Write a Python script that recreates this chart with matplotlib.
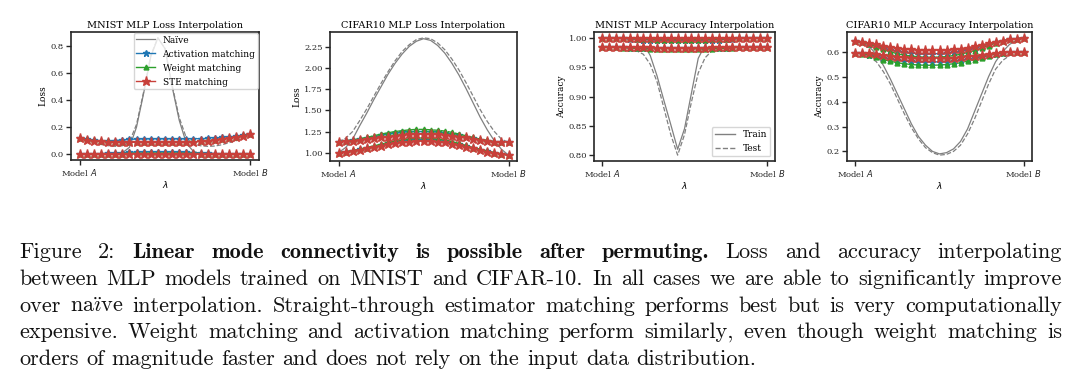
import matplotlib
matplotlib.use("Agg")
import matplotlib.pyplot as plt
from matplotlib.lines import Line2D
import numpy as np

# interpolation coefficients, 25 points from model A to model B
lambdas = np.linspace(0, 1, 25)

# MNIST MLP loss (train, test)
mnist_loss_naive_train = [0.0, 0.0, 0.0, 0.0, 0.001, 0.003, 0.01, 0.05, 0.2, 0.45, 0.72, 0.86, 0.78,
                          0.5, 0.25, 0.08, 0.02, 0.005, 0.001, 0.0, 0.0, 0.0, 0.0, 0.0, 0.0]
mnist_loss_naive_test = [0.12, 0.10, 0.085, 0.072, 0.063, 0.058, 0.062, 0.09, 0.22, 0.46, 0.73, 0.86, 0.78,
                         0.51, 0.27, 0.12, 0.075, 0.062, 0.058, 0.06, 0.07, 0.085, 0.10, 0.125, 0.15]
mnist_loss_act_train = [0.0, 0.001, 0.002, 0.004, 0.006, 0.009, 0.012, 0.014, 0.016, 0.017, 0.018, 0.018, 0.018,
                        0.017, 0.016, 0.014, 0.012, 0.009, 0.007, 0.005, 0.003, 0.002, 0.001, 0.0, 0.0]
mnist_loss_act_test = [0.12, 0.109, 0.102, 0.099, 0.099, 0.101, 0.105, 0.109, 0.112, 0.113, 0.114, 0.114, 0.114,
                       0.114, 0.113, 0.113, 0.114, 0.115, 0.117, 0.12, 0.124, 0.129, 0.135, 0.142, 0.15]
mnist_loss_wm_train = [0.0, 0.0, 0.001, 0.002, 0.003, 0.004, 0.005, 0.006, 0.007, 0.007, 0.008, 0.008, 0.008,
                       0.008, 0.007, 0.007, 0.006, 0.005, 0.004, 0.003, 0.002, 0.001, 0.001, 0.0, 0.0]
mnist_loss_wm_test = [0.12, 0.11, 0.102, 0.097, 0.094, 0.092, 0.091, 0.091, 0.091, 0.091, 0.092, 0.092, 0.092,
                      0.092, 0.092, 0.093, 0.095, 0.098, 0.102, 0.107, 0.113, 0.12, 0.129, 0.139, 0.15]
mnist_loss_ste_train = [0.0, 0.0, 0.0, 0.001, 0.001, 0.002, 0.002, 0.003, 0.003, 0.003, 0.003, 0.003, 0.003,
                        0.003, 0.003, 0.003, 0.002, 0.002, 0.002, 0.001, 0.001, 0.001, 0.0, 0.0, 0.0]
mnist_loss_ste_test = [0.12, 0.108, 0.1, 0.095, 0.092, 0.09, 0.089, 0.088, 0.088, 0.088, 0.088, 0.088, 0.088,
                       0.088, 0.089, 0.09, 0.092, 0.095, 0.099, 0.104, 0.11, 0.118, 0.127, 0.138, 0.15]

# CIFAR10 MLP loss
cifar_loss_naive_train = [1.0, 1.06, 1.16, 1.32, 1.47, 1.63, 1.78, 1.93, 2.06, 2.17, 2.26, 2.32, 2.35,
                          2.33, 2.27, 2.18, 2.06, 1.92, 1.76, 1.59, 1.42, 1.27, 1.14, 1.04, 0.97]
cifar_loss_naive_test = [1.13, 1.17, 1.25, 1.38, 1.52, 1.67, 1.82, 1.96, 2.09, 2.2, 2.28, 2.34, 2.36,
                         2.35, 2.3, 2.22, 2.11, 1.98, 1.83, 1.67, 1.51, 1.37, 1.25, 1.16, 1.12]
cifar_loss_act_train = [1.0, 1.01, 1.022, 1.038, 1.055, 1.072, 1.09, 1.11, 1.125, 1.135, 1.148, 1.152, 1.157,
                        1.152, 1.145, 1.135, 1.115, 1.097, 1.077, 1.055, 1.035, 1.015, 0.998, 0.983, 0.97]
cifar_loss_act_test = [1.13, 1.14, 1.15, 1.16, 1.175, 1.19, 1.205, 1.22, 1.23, 1.24, 1.25, 1.25, 1.25,
                       1.25, 1.245, 1.235, 1.22, 1.205, 1.19, 1.17, 1.155, 1.14, 1.13, 1.125, 1.12]
cifar_loss_wm_train = [1.0, 1.01, 1.025, 1.04, 1.06, 1.08, 1.1, 1.12, 1.14, 1.15, 1.165, 1.17, 1.175,
                       1.17, 1.16, 1.15, 1.13, 1.11, 1.085, 1.06, 1.04, 1.02, 1.0, 0.985, 0.97]
cifar_loss_wm_test = [1.13, 1.14, 1.15, 1.165, 1.18, 1.2, 1.22, 1.235, 1.25, 1.26, 1.27, 1.275, 1.275,
                      1.27, 1.265, 1.255, 1.24, 1.22, 1.2, 1.18, 1.16, 1.145, 1.13, 1.125, 1.12]
cifar_loss_ste_train = [1.0, 1.01, 1.02, 1.035, 1.05, 1.065, 1.08, 1.1, 1.11, 1.12, 1.13, 1.135, 1.14,
                        1.135, 1.13, 1.12, 1.1, 1.085, 1.07, 1.05, 1.03, 1.01, 0.995, 0.98, 0.97]
cifar_loss_ste_test = [1.13, 1.135, 1.14, 1.15, 1.16, 1.17, 1.18, 1.19, 1.2, 1.21, 1.215, 1.22, 1.22,
                       1.22, 1.215, 1.21, 1.2, 1.19, 1.18, 1.165, 1.15, 1.14, 1.13, 1.125, 1.12]

# MNIST MLP accuracy
mnist_acc_naive_train = [1.0, 1.0, 1.0, 1.0, 1.0, 0.999, 0.99, 0.97, 0.935, 0.893, 0.852, 0.81, 0.845,
                         0.905, 0.965, 0.988, 0.997, 1.0, 1.0, 1.0, 1.0, 1.0, 1.0, 1.0, 1.0]
mnist_acc_naive_test = [0.985, 0.985, 0.985, 0.984, 0.982, 0.978, 0.972, 0.955, 0.925, 0.88, 0.835, 0.80, 0.835,
                        0.89, 0.94, 0.966, 0.978, 0.983, 0.985, 0.985, 0.985, 0.985, 0.985, 0.985, 0.985]
mnist_acc_act_train = [1.0, 1.0, 0.999, 0.999, 0.998, 0.998, 0.997, 0.997, 0.996, 0.996, 0.996, 0.996, 0.996,
                       0.996, 0.996, 0.996, 0.997, 0.997, 0.998, 0.998, 0.999, 0.999, 1.0, 1.0, 1.0]
mnist_acc_act_test = [0.985, 0.985, 0.984, 0.984, 0.983, 0.983, 0.982, 0.982, 0.982, 0.982, 0.982, 0.982, 0.982,
                      0.982, 0.982, 0.982, 0.982, 0.983, 0.983, 0.984, 0.984, 0.985, 0.985, 0.985, 0.985]
mnist_acc_wm_train = [1.0, 1.0, 1.0, 0.999, 0.999, 0.998, 0.998, 0.998, 0.997, 0.997, 0.997, 0.997, 0.997,
                      0.997, 0.997, 0.997, 0.998, 0.998, 0.998, 0.999, 0.999, 1.0, 1.0, 1.0, 1.0]
mnist_acc_wm_test = [0.985, 0.985, 0.984, 0.983, 0.983, 0.982, 0.982, 0.981, 0.981, 0.981, 0.981, 0.981, 0.981,
                     0.981, 0.981, 0.981, 0.981, 0.982, 0.982, 0.983, 0.984, 0.984, 0.985, 0.985, 0.985]
mnist_acc_ste_train = [1.0, 1.0, 1.0, 1.0, 1.0, 1.0, 1.0, 0.999, 0.999, 0.999, 0.999, 0.999, 0.999,
                       0.999, 0.999, 0.999, 0.999, 1.0, 1.0, 1.0, 1.0, 1.0, 1.0, 1.0, 1.0]
mnist_acc_ste_test = [0.985, 0.985, 0.985, 0.985, 0.984, 0.984, 0.984, 0.984, 0.983, 0.983, 0.983, 0.983, 0.983,
                      0.983, 0.983, 0.983, 0.984, 0.984, 0.984, 0.984, 0.985, 0.985, 0.985, 0.985, 0.985]

# CIFAR10 MLP accuracy
cifar_acc_naive_train = [0.64, 0.635, 0.62, 0.59, 0.545, 0.49, 0.43, 0.37, 0.31, 0.26, 0.225, 0.2, 0.19,
                         0.195, 0.21, 0.24, 0.29, 0.36, 0.43, 0.5, 0.56, 0.6, 0.63, 0.645, 0.655]
cifar_acc_naive_test = [0.595, 0.59, 0.58, 0.56, 0.52, 0.47, 0.41, 0.35, 0.295, 0.25, 0.215, 0.195, 0.185,
                        0.188, 0.2, 0.225, 0.27, 0.33, 0.4, 0.47, 0.53, 0.565, 0.585, 0.595, 0.6]
cifar_acc_act_train = [0.643, 0.639, 0.632, 0.624, 0.616, 0.608, 0.602, 0.598, 0.595, 0.593, 0.592, 0.592, 0.593,
                       0.595, 0.598, 0.602, 0.608, 0.615, 0.622, 0.63, 0.638, 0.645, 0.65, 0.653, 0.656]
cifar_acc_act_test = [0.597, 0.594, 0.589, 0.583, 0.577, 0.572, 0.567, 0.564, 0.562, 0.56, 0.559, 0.559, 0.56,
                      0.561, 0.563, 0.566, 0.57, 0.575, 0.58, 0.586, 0.591, 0.596, 0.599, 0.6, 0.601]
cifar_acc_wm_train = [0.643, 0.638, 0.63, 0.62, 0.61, 0.6, 0.592, 0.587, 0.583, 0.58, 0.578, 0.578, 0.579,
                      0.581, 0.585, 0.59, 0.597, 0.605, 0.615, 0.625, 0.635, 0.643, 0.65, 0.653, 0.656]
cifar_acc_wm_test = [0.597, 0.593, 0.586, 0.578, 0.569, 0.562, 0.556, 0.552, 0.549, 0.547, 0.546, 0.546, 0.547,
                     0.549, 0.552, 0.556, 0.562, 0.569, 0.577, 0.585, 0.591, 0.596, 0.599, 0.6, 0.601]
cifar_acc_ste_train = [0.643, 0.64, 0.635, 0.63, 0.625, 0.62, 0.615, 0.612, 0.61, 0.608, 0.607, 0.607, 0.607,
                       0.608, 0.61, 0.613, 0.617, 0.622, 0.628, 0.634, 0.64, 0.645, 0.65, 0.653, 0.656]
cifar_acc_ste_test = [0.597, 0.596, 0.594, 0.59, 0.587, 0.584, 0.581, 0.579, 0.577, 0.576, 0.575, 0.575, 0.575,
                      0.576, 0.577, 0.579, 0.582, 0.585, 0.589, 0.592, 0.595, 0.598, 0.6, 0.6, 0.601]

titles = ["MNIST MLP Loss Interpolation", "CIFAR10 MLP Loss Interpolation",
          "MNIST MLP Accuracy Interpolation", "CIFAR10 MLP Accuracy Interpolation"]
ylabels = ["Loss", "Loss", "Accuracy", "Accuracy"]
method_labels = ["Naïve", "Activation matching", "Weight matching", "STE matching"]

caption_lines = [
    "Figure 2: Linear mode connectivity is possible after permuting. Loss and accuracy interpolating",
    "between MLP models trained on MNIST and CIFAR-10. In all cases we are able to significantly improve",
    "over naïve interpolation. Straight-through estimator matching performs best but is very computationally",
    "expensive. Weight matching and activation matching perform similarly, even though weight matching is",
    "orders of magnitude faster and does not rely on the input data distribution.",
]
bold_words = (2, 9)  # word index range on the first line that is bold

plt.rcParams["font.family"] = "DejaVu Serif"
plt.rcParams["axes.edgecolor"] = "#262626"
plt.rcParams["axes.linewidth"] = 1.2
plt.rcParams["xtick.color"] = "#262626"
plt.rcParams["ytick.color"] = "#262626"

W, H = 1080, 384
fig = plt.figure(figsize=(W / 100, H / 100), dpi=100)

# axes boxes in pixels: left, right, top, bottom
boxes = [(71, 259, 32, 160), (330, 517, 32, 161), (594, 775, 32, 161), (847, 1032, 32, 161)]
axes = [fig.add_axes([l / W, 1 - b / H, (r - l) / W, (b - t) / H]) for l, r, t, b in boxes]

panels = [
    [(mnist_loss_naive_train, mnist_loss_naive_test), (mnist_loss_act_train, mnist_loss_act_test),
     (mnist_loss_wm_train, mnist_loss_wm_test), (mnist_loss_ste_train, mnist_loss_ste_test)],
    [(cifar_loss_naive_train, cifar_loss_naive_test), (cifar_loss_act_train, cifar_loss_act_test),
     (cifar_loss_wm_train, cifar_loss_wm_test), (cifar_loss_ste_train, cifar_loss_ste_test)],
    [(mnist_acc_naive_train, mnist_acc_naive_test), (mnist_acc_act_train, mnist_acc_act_test),
     (mnist_acc_wm_train, mnist_acc_wm_test), (mnist_acc_ste_train, mnist_acc_ste_test)],
    [(cifar_acc_naive_train, cifar_acc_naive_test), (cifar_acc_act_train, cifar_acc_act_test),
     (cifar_acc_wm_train, cifar_acc_wm_test), (cifar_acc_ste_train, cifar_acc_ste_test)],
]

styles = [
    dict(color="grey", marker=None, linewidth=0.9),
    dict(color="tab:blue", marker="*", markersize=4.5, linewidth=1),
    dict(color="tab:green", marker="^", markersize=3.5, linewidth=1),
    dict(color="#c8403a", marker="*", markersize=6.5, linewidth=1),
]

for ax, title, ylabel, curves in zip(axes, titles, ylabels, panels):
    for (train, test), label, st in zip(curves, method_labels, styles):
        ax.plot(lambdas, train, label=label, **st)
        ax.plot(lambdas, test, linestyle="dashed", **st)
    ax.set_title(title, fontsize=7, pad=3)
    ax.set_ylabel(ylabel, fontsize=6.5, labelpad=2)
    ax.set_xlabel(r"$\lambda$", fontsize=6.5, labelpad=1)
    ax.set_xticks([0, 1])
    ax.set_xticklabels(["Model $A$", "Model $B$"])
    ax.tick_params(labelsize=6, length=3.5, width=1, pad=1.5)

axes[0].legend(loc="upper right", fontsize=6.5, borderaxespad=0.1, handlelength=2.1,
               labelspacing=0.55, borderpad=0.3, framealpha=0.8)
axes[2].legend([Line2D([], [], color="grey", linewidth=1),
                Line2D([], [], color="grey", linewidth=1, linestyle="dashed")],
               ["Train", "Test"], loc="lower right", fontsize=6.5, handlelength=2.2,
               labelspacing=0.5, framealpha=0.8)

# caption, justified word by word
renderer = fig.canvas.get_renderer()
cap_size = 16
left_px, right_px = 19, 1062
baselines = [258, 285, 311.5, 338, 365]
for li, (line, base) in enumerate(zip(caption_lines, baselines)):
    words = line.split(" ")
    texts = []
    for wi, word in enumerate(words):
        bold = li == 0 and bold_words[0] <= wi < bold_words[1]
        fam = "cmb10" if bold else "cmr10"
        if "ï" in word:
            # no ï glyph in cmr10: typeset the whole word in Computer Modern mathtext
            parts = word.split("ï")
            word = "$" + r"\ddot{\imath}".join(r"\mathrm{%s}" % p for p in parts) + "$"
        t = fig.text(0, 1 - base / H, word, fontsize=cap_size, family=fam, math_fontfamily="cm",
                     va="baseline", ha="left", color="#111111")
        texts.append(t)
    widths = [t.get_window_extent(renderer).width for t in texts]
    if li < len(caption_lines) - 1:
        gap = (right_px - left_px - sum(widths)) / (len(words) - 1)
    else:
        gap = cap_size * 100 / 72 * 0.333
    x = left_px
    for t, w in zip(texts, widths):
        t.set_x(x / W)
        x += w + gap

fig.savefig("out.png", dpi=100)
